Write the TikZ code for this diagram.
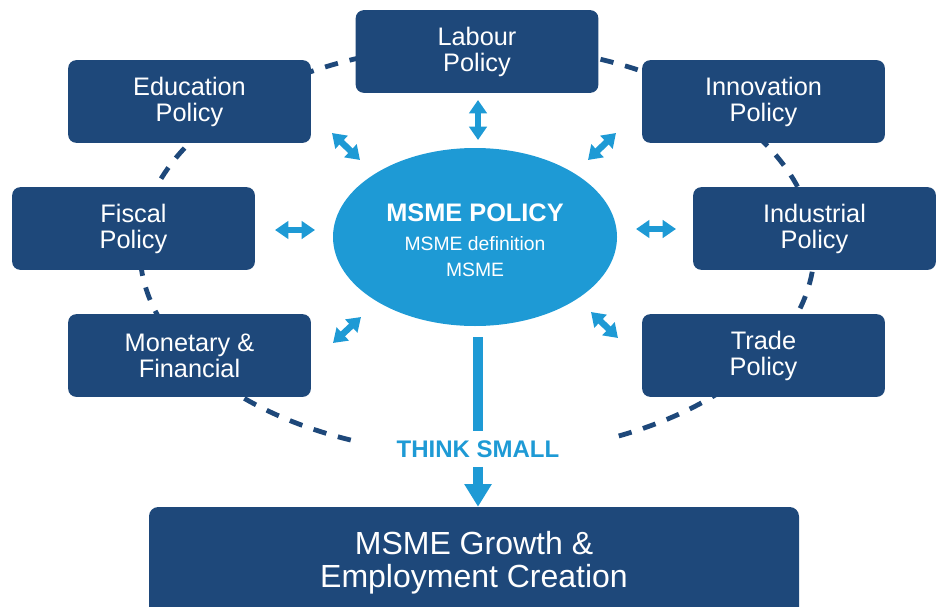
\documentclass[tikz,border=0pt]{standalone}
\usepackage{fontspec}
\setmainfont{Liberation Sans}
\usetikzlibrary{shapes.geometric,arrows.meta}
\definecolor{navy}{RGB}{30,72,122}
\definecolor{sky}{RGB}{30,154,213}
\begin{document}
\begin{tikzpicture}[x=0.75pt,y=-0.75pt,
  pbox/.style={fill=navy, rounded corners=6pt, minimum width=182pt, minimum height=62pt,
    text=white, align=center, inner sep=0pt, font=\fontsize{19}{19.5}\selectfont},
  growthbox/.style={fill=navy, rounded corners=7pt, minimum width=487.5pt, minimum height=84pt,
    text=white, align=center, inner sep=0pt, font=\fontsize{24}{25}\selectfont},
  hub/.style={ellipse, fill=sky, minimum width=213pt, minimum height=133.5pt, inner sep=0pt,
    text=white, align=center, font=\fontsize{14.5}{19.5}\selectfont},
  ring/.style={draw=navy, line width=3.6pt, dash pattern=on 10pt off 9pt},
  dbl/.style={draw=sky, line width=4.8pt, {Triangle[length=10pt,width=13pt]}-{Triangle[length=10pt,width=13pt]}},
  mainbar/.style={draw=sky, line width=7pt},
  mainarrow/.style={draw=sky, line width=7pt, -{Triangle[length=17pt,width=19.5pt]}},
  thinklabel/.style={text=sky, inner sep=6.75pt, font=\bfseries\fontsize{18}{18}\selectfont}
]
\clip (0,0) rectangle (944,606);

% dashed ring
\coordinate (ringc) at (477,250);
\draw[ring] ([shift={(112:337 and 205)}]ringc) arc[start angle=112, end angle=427, x radius=337, y radius=205];

% policy boxes
\node[pbox] (labour) at (477,51.5) {Labour\\Policy};
\node[pbox] (education) at (189.5,101.5) {Education\\Policy};
\node[pbox] (innovation) at (763.5,101.5) {Innovation\\Policy};
\node[pbox] (fiscal) at (133.5,228.5) {Fiscal\\Policy};
\node[pbox] (industrial) at (814.5,228.5) {Industrial\\Policy};
\node[pbox] (monetary) at (189.5,355.5) {Monetary \&\\Financial};
\node[pbox] (trade) at (763.5,355.5) {Trade\\Policy};

% hub
\node[hub] (msme) at (475,237) {};
\node[text=white, align=center, inner sep=0pt, font=\fontsize{14.5}{19.5}\selectfont] (hubtext) at (475,240)
  {{\bfseries\fontsize{19}{19.5}\selectfont MSME POLICY}\\[2pt]
  MSME definition\\
  MSME};

% double arrows
\coordinate (a1s) at (478,100); \coordinate (a1e) at (478,140);
\coordinate (a2s) at (332,133); \coordinate (a2e) at (360,160);
\coordinate (a3s) at (616,133); \coordinate (a3e) at (588,160);
\coordinate (a4s) at (275,230); \coordinate (a4e) at (315,230);
\coordinate (a5s) at (636,229); \coordinate (a5e) at (676,229);
\coordinate (a6s) at (333,343); \coordinate (a6e) at (361,317);
\coordinate (a7s) at (591,312); \coordinate (a7e) at (618,338);
\draw[dbl] (a1s) -- (a1e);
\draw[dbl] (a2s) -- (a2e);
\draw[dbl] (a3s) -- (a3e);
\draw[dbl] (a4s) -- (a4e);
\draw[dbl] (a5s) -- (a5e);
\draw[dbl] (a6s) -- (a6e);
\draw[dbl] (a7s) -- (a7e);

% think small and growth
\node[thinklabel] (think) at (478,449) {THINK SMALL};
\node[growthbox] (growth) at (474,563) {MSME Growth \&\\Employment Creation};
\coordinate (bartop) at (478,337);
\draw[mainbar] (bartop) -- (think.north);
\draw[mainarrow] (think.south) -- (think.south |- growth.north);
\end{tikzpicture}
\end{document}
